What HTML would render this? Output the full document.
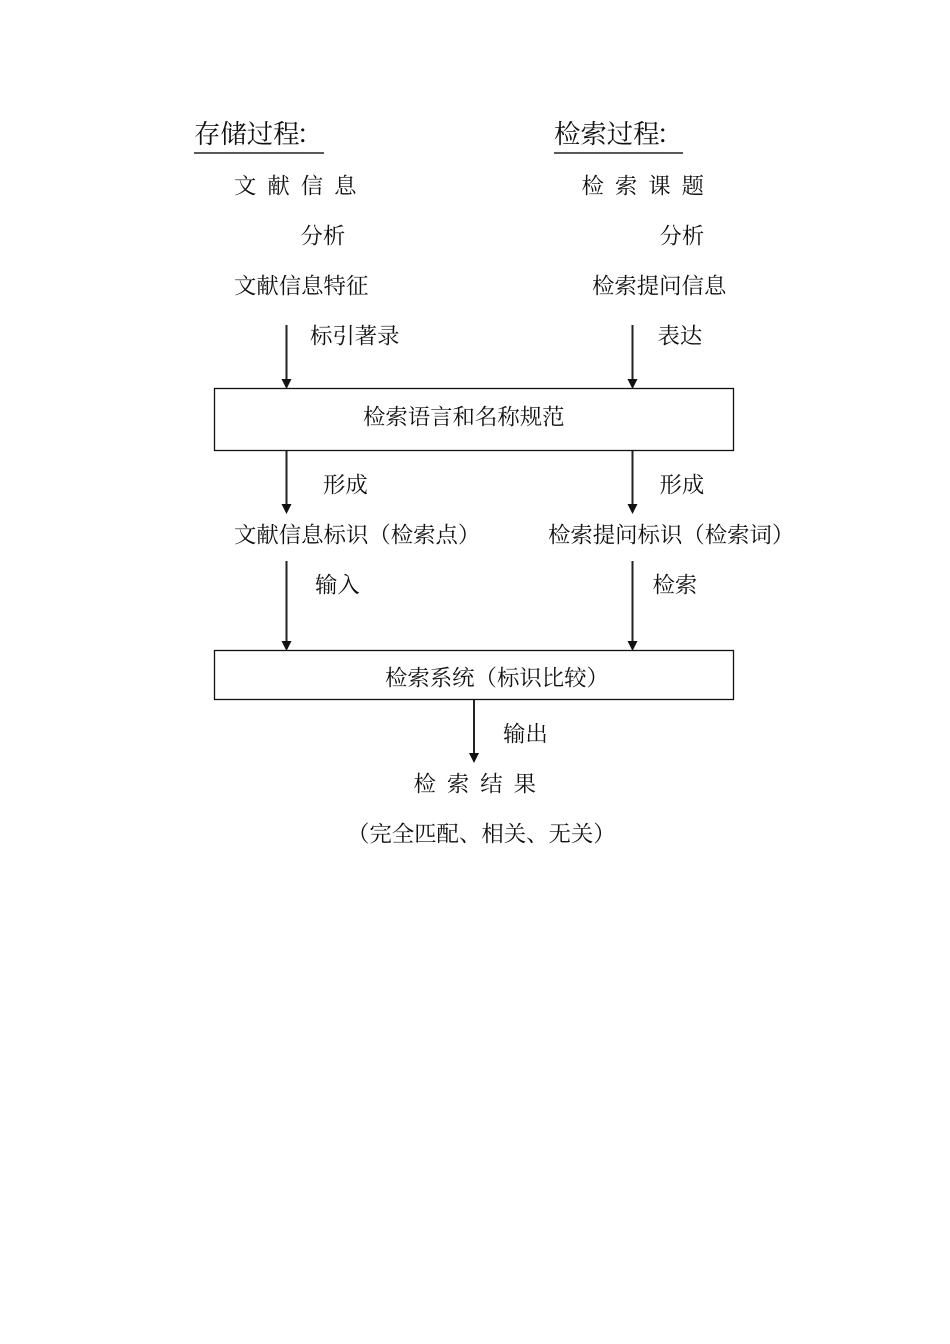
<!DOCTYPE html>
<html lang="zh">
<head>
<meta charset="utf-8">
<style>
html,body{margin:0;padding:0;background:#fff;width:950px;height:1344px;overflow:hidden}
svg{display:block}
text{font-family:"Liberation Serif","Noto Serif CJK SC",serif;font-size:22.4px;fill:#111}
.h{font-size:26.4px}
.s{letter-spacing:11px}
line{stroke:#222}
polygon{fill:#111}
rect{fill:none;stroke:#111;stroke-width:1.3}
</style>
</head>
<body>
<svg width="950" height="1344" viewBox="0 0 950 1344" xmlns="http://www.w3.org/2000/svg">
<text class="h" x="194" y="143">存储过程<tspan dx="-3">：</tspan></text>
<text class="h" x="554" y="143">检索过程<tspan dx="-3">：</tspan></text>
<line x1="194" y1="153" x2="324" y2="153" stroke-width="1.5"/>
<line x1="554" y1="153" x2="683" y2="153" stroke-width="1.5"/>

<text class="s" x="234" y="193.7">文献信息</text>
<text class="s" x="581.5" y="193.7">检索课题</text>
<text x="300.5" y="243.5">分析</text>
<text x="659.5" y="243.5">分析</text>
<text x="234" y="293.5">文献信息特征</text>
<text x="592" y="293.5">检索提问信息</text>
<text x="310" y="343.5">标引著录</text>
<text x="657.5" y="343.5">表达</text>

<line x1="286.5" y1="325" x2="286.5" y2="381" stroke-width="2"/>
<polygon points="281.5,379 291.5,379 286.5,389"/>
<line x1="632.5" y1="325" x2="632.5" y2="381" stroke-width="2"/>
<polygon points="627.5,379 637.5,379 632.5,389"/>

<rect x="214.5" y="388.5" width="519" height="62"/>
<text x="363" y="424.5">检索语言和名称规范</text>

<line x1="286.5" y1="451" x2="286.5" y2="506" stroke-width="2"/>
<polygon points="281.5,504 291.5,504 286.5,514"/>
<line x1="632.5" y1="451" x2="632.5" y2="506" stroke-width="2"/>
<polygon points="627.5,504 637.5,504 632.5,514"/>
<text x="323" y="492.5">形成</text>
<text x="659.5" y="492.5">形成</text>

<text x="234" y="542.5">文献信息标识（检索点）</text>
<text x="548" y="542.5">检索提问标识（检索词）</text>

<line x1="286.5" y1="561" x2="286.5" y2="643" stroke-width="2"/>
<polygon points="281.5,641 291.5,641 286.5,651"/>
<line x1="632.5" y1="561" x2="632.5" y2="643" stroke-width="2"/>
<polygon points="627.5,641 637.5,641 632.5,651"/>
<text x="315" y="592.5">输入</text>
<text x="652.5" y="592.5">检索</text>

<rect x="214.5" y="650.5" width="519" height="49"/>
<text x="385" y="685.5">检索系统（标识比较）</text>

<line x1="474" y1="700" x2="474" y2="756" stroke-width="2"/>
<polygon points="469,753 479,753 474,763"/>
<text x="503" y="741.5">输出</text>
<text class="s" x="413.5" y="791.5">检索结果</text>
<text x="347" y="841.5">（完全匹配、相关、无关）</text>
</svg>
</body>
</html>
